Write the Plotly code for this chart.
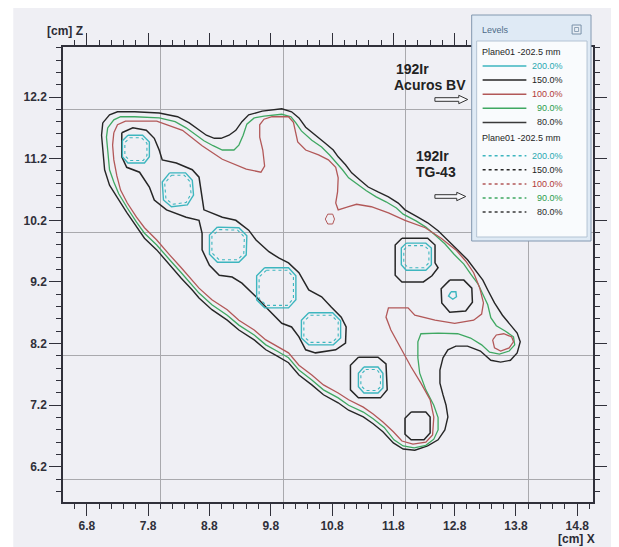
import plotly.graph_objects as go

# ---------------- axes ----------------
X_TICKS = [6.8, 7.8, 8.8, 9.8, 10.8, 11.8, 12.8, 13.8, 14.8]
Y_TICKS = [6.2, 7.2, 8.2, 9.2, 10.2, 11.2, 12.2]
X_GRID = [8, 10, 12, 14]
Y_GRID = [6, 8, 10, 12]
X_RANGE = [6.411, 15.057]
Y_RANGE = [5.631, 13.011]

# ---------------- isodose contours (cm) ----------------
ISO80_X = [7.06, 7.17, 7.30, 7.58, 7.98, 8.28, 8.47, 8.63, 8.75, 8.88, 8.99, 9.12, 9.23, 9.33, 9.44, 9.66, 9.98,
           10.14, 10.26, 10.37, 10.55, 10.69, 10.82, 10.90, 11.02, 11.12, 11.26, 11.39, 11.55, 11.72, 11.88, 11.99,
           12.20, 12.36, 12.53, 12.69, 12.85, 13.01, 13.14, 13.26, 13.34, 13.45, 13.58, 13.71, 13.82, 13.87, 13.82,
           13.71, 13.55, 13.39, 13.22, 13.01, 12.82, 12.69, 12.61, 12.56, 12.56, 12.61, 12.66, 12.69, 12.64, 12.53,
           12.36, 12.15, 11.96, 11.80, 11.63, 11.47, 11.31, 11.07, 10.90, 10.66, 10.47, 10.26, 10.09, 9.90, 9.72,
           9.53, 9.28, 9.09, 8.84, 8.63, 8.52, 8.34, 8.15, 7.94, 7.74, 7.61, 7.45, 7.29, 7.17, 7.09, 7.06, 7.04]
ISO80_Y = [11.78, 11.91, 11.96, 11.96, 11.94, 11.88, 11.78, 11.66, 11.58, 11.53, 11.53, 11.58, 11.66, 11.80, 11.91,
           11.97, 12.01, 11.96, 11.86, 11.71, 11.57, 11.45, 11.34, 11.23, 11.10, 10.97, 10.85, 10.74, 10.66, 10.58,
           10.48, 10.37, 10.25, 10.16, 10.03, 9.88, 9.72, 9.56, 9.39, 9.23, 9.07, 8.86, 8.66, 8.50, 8.37, 8.23, 8.05,
           7.93, 7.90, 7.93, 8.08, 8.16, 8.16, 8.10, 7.97, 7.77, 7.56, 7.37, 7.20, 7.01, 6.80, 6.64, 6.54, 6.47, 6.49,
           6.59, 6.77, 6.90, 7.01, 7.12, 7.24, 7.37, 7.53, 7.69, 7.89, 8.00, 8.10, 8.26, 8.42, 8.58, 8.75, 8.94, 9.07,
           9.26, 9.48, 9.72, 9.91, 10.09, 10.33, 10.58, 10.77, 11.02, 11.34, 11.58]

ISO90_X = [7.14, 7.24, 7.35, 7.58, 7.98, 8.24, 8.42, 8.59, 8.71, 8.86, 9.01, 9.20, 9.28, 9.35, 9.41, 9.53, 9.69,
           9.98, 10.13, 10.21, 10.30, 10.47, 10.63, 10.76, 10.86, 10.97, 11.07, 11.23, 11.36, 11.52, 11.68, 11.85,
           11.96, 12.17, 12.33, 12.48, 12.64, 12.79, 12.95, 13.06, 13.18, 13.26, 13.34, 13.39, 13.48, 13.63, 13.76,
           13.78, 13.69, 13.53, 13.37, 13.24, 13.06, 12.85, 12.53, 12.25, 12.20, 12.20, 12.23, 12.33, 12.46, 12.53,
           12.53, 12.46, 12.33, 12.14, 11.96, 11.81, 11.65, 11.47, 11.31, 11.07, 10.90, 10.66, 10.47, 10.26, 10.09,
           9.90, 9.72, 9.53, 9.28, 9.09, 8.84, 8.63, 8.52, 8.34, 8.15, 7.94, 7.74, 7.61, 7.46, 7.32, 7.24, 7.17, 7.14,
           7.12]
ISO90_Y = [11.70, 11.83, 11.88, 11.88, 11.86, 11.80, 11.70, 11.58, 11.49, 11.41, 11.34, 11.34, 11.42, 11.58, 11.76,
           11.86, 11.89, 11.92, 11.88, 11.78, 11.65, 11.50, 11.39, 11.26, 11.15, 11.02, 10.89, 10.77, 10.68, 10.58,
           10.50, 10.40, 10.30, 10.19, 10.09, 9.96, 9.82, 9.65, 9.49, 9.33, 9.17, 9.00, 8.83, 8.62, 8.49, 8.40, 8.31,
           8.18, 8.08, 8.03, 8.06, 8.18, 8.29, 8.36, 8.37, 8.36, 8.23, 7.97, 7.72, 7.45, 7.20, 7.00, 6.80, 6.65, 6.55,
           6.51, 6.54, 6.64, 6.84, 6.98, 7.09, 7.20, 7.32, 7.45, 7.61, 7.77, 7.97, 8.08, 8.18, 8.34, 8.50, 8.66, 8.83,
           9.02, 9.15, 9.35, 9.56, 9.80, 9.99, 10.17, 10.40, 10.63, 10.82, 11.02, 11.34, 11.55]

ISO100_X = [7.24, 7.30, 7.43, 7.94, 8.36, 8.68, 9.01, 9.40, 9.64, 9.70, 9.67, 9.62, 9.62, 9.69, 9.82, 10.09, 10.17,
            10.21, 10.24, 10.37, 10.58, 10.74, 10.86, 10.90, 10.89, 10.86, 10.90, 11.07, 11.20, 11.44, 11.72, 11.99,
            12.32, 12.58, 12.82, 12.98, 13.11, 13.21, 13.27, 13.24, 13.11, 12.80, 12.48, 12.15, 12.04, 11.72, 11.68,
            11.76, 11.93, 12.09, 12.25, 12.40, 12.46, 12.44, 12.33, 12.12, 11.94, 11.80, 11.63, 11.47, 11.31, 11.07,
            10.90, 10.66, 10.47, 10.26, 10.09, 9.90, 9.72, 9.53, 9.28, 9.09, 8.84, 8.63, 8.52, 8.34, 8.15, 7.94, 7.74,
            7.61, 7.46, 7.35, 7.29, 7.24, 7.22]
ISO100_Y = [11.62, 11.75, 11.81, 11.81, 11.66, 11.41, 11.19, 11.03, 10.98, 11.08, 11.34, 11.55, 11.75, 11.84, 11.88,
            11.88, 11.79, 11.62, 11.47, 11.34, 11.26, 11.18, 11.06, 10.89, 10.66, 10.48, 10.37, 10.42, 10.46, 10.42,
            10.32, 10.20, 10.08, 9.91, 9.72, 9.54, 9.35, 9.10, 8.86, 8.68, 8.58, 8.53, 8.58, 8.66, 8.78, 8.78, 8.63,
            8.42, 8.10, 7.82, 7.56, 7.29, 7.01, 6.72, 6.60, 6.57, 6.62, 6.77, 6.93, 7.06, 7.17, 7.29, 7.40, 7.53, 7.69,
            7.85, 8.05, 8.16, 8.26, 8.42, 8.58, 8.75, 8.91, 9.10, 9.23, 9.43, 9.64, 9.88, 10.08, 10.25, 10.48, 10.69,
            10.92, 11.18, 11.42]

ISO100_TIP_X = [13.42, 13.48, 13.60, 13.73, 13.76, 13.69, 13.55, 13.45]
ISO100_TIP_Y = [8.26, 8.34, 8.36, 8.31, 8.23, 8.13, 8.08, 8.13]
ISO100_SPOT_X = [10.73, 10.81, 10.84, 10.81, 10.73, 10.69]
ISO100_SPOT_Y = [10.30, 10.30, 10.22, 10.14, 10.14, 10.22]

# 150 % isodose (black) : large band around the first five dwell groups + isolated islands
ISO150_BAND_X = [7.37, 7.55, 7.77, 7.90, 7.98, 8.03, 8.26, 8.52, 8.63, 8.68, 8.71, 9.01, 9.23, 9.44, 9.56, 9.77, 9.93,
                 10.09, 10.26, 10.42, 10.63, 10.79, 10.95, 11.03, 11.02, 10.86, 10.53, 10.37, 10.26, 10.14, 9.98, 9.77,
                 9.56, 9.33, 9.17, 8.96, 8.80, 8.68, 8.68, 8.63, 8.42, 8.10, 7.90, 7.82, 7.66, 7.45, 7.37]
ISO150_BAND_Y = [11.62, 11.70, 11.66, 11.53, 11.34, 11.18, 11.13, 11.02, 10.90, 10.58, 10.37, 10.25, 10.20, 10.04, 9.88,
                 9.69, 9.59, 9.51, 9.35, 9.07, 8.96, 8.79, 8.63, 8.47, 8.21, 8.10, 8.05, 8.10, 8.31, 8.47, 8.53, 8.74,
                 8.96, 9.18, 9.28, 9.31, 9.47, 9.72, 9.99, 10.20, 10.25, 10.37, 10.53, 10.74, 10.98, 11.06, 11.23]
ISO150_A_X = [11.23, 11.55, 11.68, 11.70, 11.59, 11.23, 11.10, 11.10]
ISO150_A_Y = [7.98, 7.98, 7.87, 7.45, 7.32, 7.32, 7.45, 7.85]
ISO150_B_X = [11.94, 12.36, 12.48, 12.48, 12.53, 12.43, 12.29, 11.94, 11.83, 11.83]
ISO150_B_Y = [9.91, 9.91, 9.80, 9.51, 9.43, 9.30, 9.20, 9.20, 9.31, 9.80]
ISO150_C_X = [12.72, 12.95, 13.08, 13.09, 12.98, 12.72, 12.59, 12.58]
ISO150_C_Y = [9.23, 9.23, 9.10, 8.87, 8.73, 8.71, 8.86, 9.09]
ISO150_D_X = [12.09, 12.33, 12.40, 12.40, 12.30, 12.09, 11.99, 11.99]
ISO150_D_Y = [7.09, 7.09, 7.01, 6.75, 6.64, 6.64, 6.73, 6.99]

# 200 % isodose (cyan), Acuros BV
ISO200_1_X = [7.47, 7.71, 7.82, 7.82, 7.74, 7.47, 7.38, 7.38]
ISO200_1_Y = [11.58, 11.58, 11.47, 11.23, 11.13, 11.13, 11.23, 11.49]
ISO200_2_X = [8.15, 8.41, 8.52, 8.54, 8.44, 8.18, 8.05, 8.03]
ISO200_2_Y = [10.97, 10.97, 10.85, 10.61, 10.45, 10.42, 10.53, 10.82]
ISO200_3_X = [8.93, 9.28, 9.41, 9.40, 9.28, 8.93, 8.80, 8.80]
ISO200_3_Y = [10.09, 10.08, 9.95, 9.64, 9.52, 9.52, 9.65, 9.96]
ISO200_4_X = [9.70, 10.09, 10.21, 10.21, 10.09, 9.70, 9.57, 9.57]
ISO200_4_Y = [9.43, 9.43, 9.30, 8.91, 8.78, 8.78, 8.91, 9.30]
ISO200_5_X = [10.42, 10.81, 10.94, 10.94, 10.82, 10.42, 10.30, 10.30]
ISO200_5_Y = [8.70, 8.70, 8.57, 8.29, 8.18, 8.18, 8.29, 8.58]
ISO200_6_X = [11.32, 11.55, 11.63, 11.63, 11.55, 11.32, 11.23, 11.23]
ISO200_6_Y = [7.82, 7.82, 7.72, 7.48, 7.40, 7.40, 7.50, 7.72]
ISO200_7_X = [12.01, 12.33, 12.42, 12.42, 12.33, 12.01, 11.93, 11.93]
ISO200_7_Y = [9.83, 9.83, 9.75, 9.48, 9.39, 9.39, 9.48, 9.75]
ISO200_8_X = [12.74, 12.82, 12.83, 12.77, 12.70]
ISO200_8_Y = [9.04, 9.04, 8.96, 8.92, 8.97]

# 200 % isodose (cyan), TG-43 (dotted)
TG200_1_X = [7.50, 7.69, 7.78, 7.78, 7.72, 7.50, 7.42, 7.42]
TG200_1_Y = [11.54, 11.54, 11.45, 11.25, 11.17, 11.17, 11.25, 11.46]
TG200_2_X = [8.18, 8.39, 8.48, 8.50, 8.42, 8.20, 8.09, 8.07]
TG200_2_Y = [10.93, 10.93, 10.83, 10.63, 10.49, 10.46, 10.55, 10.80]
TG200_3_X = [8.96, 9.26, 9.37, 9.36, 9.26, 8.96, 8.84, 8.84]
TG200_3_Y = [10.05, 10.04, 9.93, 9.66, 9.56, 9.56, 9.67, 9.94]
TG200_4_X = [9.73, 10.07, 10.17, 10.17, 10.07, 9.73, 9.61, 9.61]
TG200_4_Y = [9.39, 9.39, 9.28, 8.93, 8.82, 8.82, 8.93, 9.28]
TG200_5_X = [10.45, 10.79, 10.90, 10.90, 10.80, 10.45, 10.34, 10.34]
TG200_5_Y = [8.66, 8.66, 8.55, 8.31, 8.22, 8.22, 8.31, 8.56]
TG200_6_X = [11.35, 11.53, 11.59, 11.59, 11.53, 11.35, 11.27, 11.27]
TG200_6_Y = [7.78, 7.78, 7.70, 7.50, 7.44, 7.44, 7.52, 7.70]
TG200_7_X = [12.04, 12.30, 12.38, 12.38, 12.30, 12.04, 11.97, 11.97]
TG200_7_Y = [9.79, 9.79, 9.72, 9.51, 9.43, 9.43, 9.51, 9.72]

# legend content
LEVELS = ["200.0%", "150.0%", "100.0%", "90.0%", "80.0%"]
PLANE_LABEL = "Plane01 -202.5 mm"

C_CYAN = "#3db6bf"
C_BLACK = "#262626"
C_RED = "#b25858"
C_GREEN = "#3fa862"
C_GRAY = "#3a3a3a"
LINE_COLORS = [C_CYAN, C_BLACK, C_RED, C_GREEN, C_GRAY]
TEXT_COLORS = ["#2aa9b2", "#1e1e1e", "#b23a3a", "#2c9c4c", "#2a2a2a"]

FONT = "Liberation Sans, Arial, sans-serif"


def closed(v):
    return list(v) + [v[0]]


fig = go.Figure()


def add_contour(xs, ys, color, width, dash="solid"):
    fig.add_trace(go.Scatter(x=closed(xs), y=closed(ys), mode="lines",
                             line=dict(color=color, width=width, dash=dash),
                             hoverinfo="skip", showlegend=False))


add_contour(ISO80_X, ISO80_Y, C_BLACK, 1.4)
add_contour(ISO90_X, ISO90_Y, C_GREEN, 1.3)
add_contour(ISO100_X, ISO100_Y, C_RED, 1.3)
add_contour(ISO100_TIP_X, ISO100_TIP_Y, C_RED, 1.3)
add_contour(ISO100_SPOT_X, ISO100_SPOT_Y, C_RED, 1.0)
for xs, ys in [(ISO150_BAND_X, ISO150_BAND_Y), (ISO150_A_X, ISO150_A_Y), (ISO150_B_X, ISO150_B_Y),
               (ISO150_C_X, ISO150_C_Y), (ISO150_D_X, ISO150_D_Y)]:
    add_contour(xs, ys, C_BLACK, 1.5)
for xs, ys in [(TG200_1_X, TG200_1_Y), (TG200_2_X, TG200_2_Y), (TG200_3_X, TG200_3_Y), (TG200_4_X, TG200_4_Y),
               (TG200_5_X, TG200_5_Y), (TG200_6_X, TG200_6_Y), (TG200_7_X, TG200_7_Y)]:
    add_contour(xs, ys, C_CYAN, 1.1, "dot")
for xs, ys in [(ISO200_1_X, ISO200_1_Y), (ISO200_2_X, ISO200_2_Y), (ISO200_3_X, ISO200_3_Y),
               (ISO200_4_X, ISO200_4_Y), (ISO200_5_X, ISO200_5_Y), (ISO200_6_X, ISO200_6_Y),
               (ISO200_7_X, ISO200_7_Y), (ISO200_8_X, ISO200_8_Y)]:
    add_contour(xs, ys, C_CYAN, 1.4)

# empty trace that carries the grid axes
fig.add_trace(go.Scatter(x=[], y=[], xaxis="x2", yaxis="y2", showlegend=False, hoverinfo="skip"))

# ---------------- layout helpers (page pixel -> paper, decorations only) ----------------
OFF = 8                      # page body margin of the html page
FIG_W, FIG_H = 619 - OFF, 547 - OFF
L, T, W, H = 63 - OFF, 47 - OFF, 533, 455


def PX(x):
    return (x - OFF - L) / W


def PY(y):
    return (T + H - (y - OFF)) / H


shapes = []
annotations = []

# page background
shapes.append(dict(type="rect", xref="paper", yref="paper", x0=PX(13), x1=PX(619), y0=PY(8), y1=PY(547),
                   line=dict(width=0), fillcolor="#efeff4", layer="below"))


def text(s, x, y, size=12, color="#222", bold=False, xanchor="left"):
    annotations.append(dict(text=s, x=PX(x), y=PY(y), xref="paper", yref="paper", showarrow=False,
                            xanchor=xanchor, yanchor="middle",
                            font=dict(family=FONT, size=size, color=color, weight="bold" if bold else "normal")))


def hollow_arrow(x0, x1, yc):
    hs, hh, hl = 1.8, 4.2, 9
    pts = [(x0, yc - hs), (x1 - hl, yc - hs), (x1 - hl, yc - hh), (x1, yc), (x1 - hl, yc + hh),
           (x1 - hl, yc + hs), (x0, yc + hs)]
    path = "M " + " L ".join(f"{PX(a):.5f},{PY(b):.5f}" for a, b in pts) + " Z"
    shapes.append(dict(type="path", xref="paper", yref="paper", path=path,
                       line=dict(color="#333", width=1), fillcolor="#f7f7fa", layer="above"))


# axis titles
text("[cm] Z", 45, 31, size=12, color="#2b2b35", bold=True)
text("[cm] X", 559, 539, size=12, color="#2b2b35", bold=True)

# method labels
text("192Ir", 396, 69, size=14, color="#222", bold=True)
text("Acuros BV", 394, 85, size=14, color="#222", bold=True)
hollow_arrow(437, 470, 99.5)
text("192Ir", 416, 156, size=14, color="#222", bold=True)
text("TG-43", 416, 172, size=14, color="#222", bold=True)
hollow_arrow(437, 468, 196.5)

# legend panel
shapes.append(dict(type="rect", xref="paper", yref="paper", x0=PX(474), x1=PX(594), y0=PY(241), y1=PY(15),
                   line=dict(color="#8298b0", width=1), fillcolor="#dfeaf5", layer="above"))
shapes.append(dict(type="rect", xref="paper", yref="paper", x0=PX(479), x1=PX(590), y0=PY(237), y1=PY(41),
                   line=dict(color="#b3c3d4", width=1), fillcolor="#f9fbfd", layer="above"))
shapes.append(dict(type="rect", xref="paper", yref="paper", x0=PX(575), x1=PX(584), y0=PY(34), y1=PY(25),
                   line=dict(color="#7890a8", width=1), fillcolor="#e8eef5", layer="above"))
shapes.append(dict(type="rect", xref="paper", yref="paper", x0=PX(577.5), x1=PX(581.5), y0=PY(31.5), y1=PY(27.5),
                   line=dict(color="#7890a8", width=0.8), fillcolor="rgba(0,0,0,0)", layer="above"))
text("Levels", 482, 30, size=9, color="#4d6a88")

for header_y, first_y, dash in [(51.7, 66.0, "solid"), (138.0, 155.7, "dot")]:
    text(PLANE_LABEL, 482, header_y, size=9, color="#1e1e1e")
    for i, lab in enumerate(LEVELS):
        yy = first_y + i * 14.1
        shapes.append(dict(type="line", xref="paper", yref="paper", x0=PX(485), x1=PX(529), y0=PY(yy), y1=PY(yy),
                           line=dict(color=LINE_COLORS[i], width=1.5, dash=dash), layer="above"))
        text(lab, 568, yy, size=9, color=TEXT_COLORS[i], xanchor="right")

axis_common = dict(showline=True, linecolor="#30303a", linewidth=1.5, mirror="ticks", ticks="outside",
                   ticklen=12, tickwidth=1.3, tickcolor="#30303a", showgrid=False, zeroline=False,
                   tickfont=dict(family=FONT, size=12, color="#30303a", weight="bold"))

fig.update_layout(
    width=FIG_W, height=FIG_H,
    margin=dict(l=L, r=FIG_W - L - W, t=T, b=FIG_H - T - H, pad=0),
    paper_bgcolor="white", plot_bgcolor="rgba(0,0,0,0)",
    showlegend=False,
    xaxis=dict(range=X_RANGE, tickvals=X_TICKS, ticktext=[f"{v:.1f}" for v in X_TICKS],
               minor=dict(tick0=6.8, dtick=0.2, ticks="outside", ticklen=5, tickcolor="#30303a", tickwidth=1.2,
                          showgrid=False),
               **axis_common),
    yaxis=dict(range=Y_RANGE, tickvals=Y_TICKS, ticktext=[f"{v:.1f}" for v in Y_TICKS],
               minor=dict(tick0=6.2, dtick=0.2, ticks="outside", ticklen=5, tickcolor="#30303a", tickwidth=1.2,
                          showgrid=False),
               **axis_common),
    xaxis2=dict(range=X_RANGE, overlaying="x", side="top", tickvals=X_GRID, showgrid=True, gridcolor="#a9a9ad",
                gridwidth=1, showticklabels=False, ticks="", showline=False, zeroline=False),
    yaxis2=dict(range=Y_RANGE, overlaying="y", side="right", tickvals=Y_GRID, showgrid=True, gridcolor="#a9a9ad",
                gridwidth=1, showticklabels=False, ticks="", showline=False, zeroline=False),
    shapes=shapes,
    annotations=annotations,
)

fig.write_html("out.html")
